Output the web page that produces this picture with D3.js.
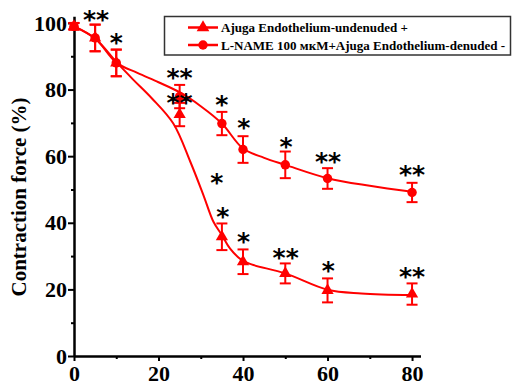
<!DOCTYPE html>
<html>
<head>
<meta charset="utf-8">
<script src="https://cdn.jsdelivr.net/npm/d3@7"></script>
<style>
  body { margin: 0; background: #fff; }
  svg { display: block; }
</style>
</head>
<body>
<div id="diagram"></div>
<script>
// data
const doses = [0, 5, 10, 25, 35, 40, 50, 60, 80];
const undenuded = [99, 95.5, 88, 72.5, 35.8, 28.3, 24.8, 19.7, 18.6];
const undenudedErr = [1, 4, 4, 3.5, 4, 3.7, 3, 3.6, 3.2];
const denuded = [99, 95.5, 88, 77.9, 69.8, 62, 57.4, 53.3, 49.1];
const denudedErr = [1, 4, 4, 3.5, 3.5, 4, 4, 3.1, 2.9];

// fitted curves as drawn
const undenudedFitX = [0, 5, 10, 14, 18.4, 23.5, 27.5, 30.6, 33, 35, 36.9, 39.7, 42, 50, 60, 68, 80];
const undenudedFit = [99, 95.3, 88.3, 83, 77.4, 69.8, 58.4, 48.4, 40.3, 36.3, 32.3, 28.8, 27.5, 24.8, 19.9, 18.8, 18.3];
const denudedFitX = [0, 5, 10, 15, 20, 25, 30, 35, 40, 45, 50, 60, 70, 80];
const denudedFit = [99, 95.4, 88.1, 85, 82.2, 79.2, 75, 69.8, 62.3, 59.5, 57.4, 53.4, 51.1, 49.3];

// significance marks
const starX = [5.2, 10, 25, 25, 35, 40.2, 50.2, 60.1, 80, 33.8, 35.2, 40.1, 50.1, 60.2, 80];
const starY = [102.4, 95.5, 85, 77.5, 76.9, 70, 64.3, 59.9, 55.9, 53.4, 43.3, 35.8, 30.9, 26.9, 25.1];
const starText = ['**', '*', '**', '**', '*', '*', '*', '**', '**', '*', '*', '*', '**', '*', '**'];

const xTicks = [0, 20, 40, 60, 80];
const yTicks = [0, 20, 40, 60, 80, 100];
const legendLabels = ['Ajuga Endothelium-undenuded +', 'L-NAME 100 мкМ+Ajuga Endothelium-denuded -'];

!(function () {
  let
    width = 513,
    height = 386,
    red = '#ff0000',
    x = d3.scaleLinear().domain([0, 82]).range([74, 420.5]),
    y = d3.scaleLinear().domain([0, 102]).range([356, 16.3]),
    svg;

  svg = d3.select('#diagram')
    .append('svg')
    .attr('width', width)
    .attr('height', height)
    .attr('viewBox', '0 0 ' + width + ' ' + height);

  svg.append('rect').attr('width', width).attr('height', height).attr('fill', '#fff');

  // axes
  let xAxis = svg.append('g')
    .attr('transform', 'translate(0,' + y(0) + ')')
    .call(d3.axisBottom(x).tickValues(xTicks).tickSize(5).tickSizeOuter(0).tickPadding(4));
  svg.append('g')
    .attr('transform', 'translate(0,' + y(0) + ')')
    .call(d3.axisBottom(x).tickValues([10, 30, 50, 70]).tickSize(3).tickFormat(''))
    .call(g => g.select('.domain').remove());

  let yAxis = svg.append('g')
    .attr('transform', 'translate(' + x(0) + ',0)')
    .call(d3.axisLeft(y).tickValues(yTicks).tickSize(6).tickSizeOuter(0).tickPadding(1));
  svg.append('g')
    .attr('transform', 'translate(' + x(0) + ',0)')
    .call(d3.axisLeft(y).tickValues([10, 30, 50, 70, 90]).tickSize(3).tickFormat(''))
    .call(g => g.select('.domain').remove());

  svg.selectAll('.domain').attr('stroke', '#000').attr('stroke-width', 2.5);
  svg.selectAll('.tick line').attr('stroke', '#000').attr('stroke-width', 2);
  svg.selectAll('.tick text')
    .attr('fill', '#000')
    .style('font-family', '"Liberation Serif", "Times New Roman", serif')
    .style('font-weight', 'bold')
    .style('font-size', '22px');
  xAxis.selectAll('.tick text').attr('dy', '0.71em');

  svg.append('text')
    .attr('transform', 'translate(26,197) rotate(-90)')
    .attr('text-anchor', 'middle')
    .style('font-family', '"Liberation Serif", "Times New Roman", serif')
    .style('font-weight', 'bold')
    .style('font-size', '21px')
    .text('Contraction force (%)');

  // fitted curves
  let line = d3.line()
    .x(function (d) { return x(d[0]); })
    .y(function (d) { return y(d[1]); })
    .curve(d3.curveCatmullRom.alpha(0.5));

  [[undenudedFitX, undenudedFit], [denudedFitX, denudedFit]].forEach(function (s) {
    svg.append('path')
      .datum(d3.zip(s[0], s[1]))
      .attr('d', line)
      .attr('fill', 'none')
      .attr('stroke', red)
      .attr('stroke-width', 2);
  });

  // error bars
  let series = [
    { vals: undenuded, err: undenudedErr, sym: d3.symbolTriangle },
    { vals: denuded, err: denudedErr, sym: d3.symbolCircle }
  ];

  series.forEach(function (s) {
    let g = svg.append('g');
    let pts = doses.map(function (d, i) { return { x: d, v: s.vals[i], e: s.err[i] }; });

    g.selectAll('line.bar')
      .data(pts)
      .enter()
      .append('line')
      .attr('x1', function (d) { return x(d.x); })
      .attr('x2', function (d) { return x(d.x); })
      .attr('y1', function (d) { return y(d.v + d.e); })
      .attr('y2', function (d) { return y(d.v - d.e); })
      .attr('stroke', red)
      .attr('stroke-width', 2);

    ['top', 'bottom'].forEach(function (side) {
      g.selectAll('line.' + side)
        .data(pts)
        .enter()
        .append('line')
        .attr('x1', function (d) { return x(d.x) - 5.5; })
        .attr('x2', function (d) { return x(d.x) + 5.5; })
        .attr('y1', function (d) { return y(side == 'top' ? d.v + d.e : d.v - d.e); })
        .attr('y2', function (d) { return y(side == 'top' ? d.v + d.e : d.v - d.e); })
        .attr('stroke', red)
        .attr('stroke-width', 2);
    });

    g.selectAll('path')
      .data(pts)
      .enter()
      .append('path')
      .attr('transform', function (d) { return 'translate(' + x(d.x) + ',' + y(d.v) + ')'; })
      .attr('d', d3.symbol().type(s.sym).size(s.sym == d3.symbolCircle ? 70 : 65))
      .attr('fill', red);
  });

  // stars
  svg.selectAll('text.star')
    .data(starText)
    .enter()
    .append('text')
    .attr('class', 'star')
    .attr('x', function (d, i) { return x(starX[i]); })
    .attr('y', function (d, i) { return y(starY[i]) + 13; })
    .attr('text-anchor', 'middle')
    .style('font-family', '"DejaVu Sans", sans-serif')
    .style('font-weight', 'bold')
    .style('font-size', '25px')
    .text(function (d) { return d; });

  // legend
  let legend = svg.append('g');
  legend.append('rect')
    .attr('x', 164.5).attr('y', 16.5)
    .attr('width', 346).attr('height', 38.5)
    .attr('fill', '#fff')
    .attr('stroke', '#333')
    .attr('stroke-width', 1.5);

  let labelWidths = [187, 284];
  legendLabels.forEach(function (label, i) {
    let ly = 27.5 + i * 17.5;
    legend.append('line')
      .attr('x1', 188).attr('x2', 218)
      .attr('y1', ly).attr('y2', ly)
      .attr('stroke', red).attr('stroke-width', 2.5);
    legend.append('path')
      .attr('transform', 'translate(203,' + ly + ')')
      .attr('d', d3.symbol().type(series[i].sym).size(70))
      .attr('fill', red);
    legend.append('text')
      .attr('x', 221).attr('y', ly + 4.5)
      .attr('textLength', labelWidths[i])
      .attr('lengthAdjust', 'spacingAndGlyphs')
      .style('font-family', '"Liberation Serif", "Times New Roman", serif')
      .style('font-weight', 'bold')
      .style('font-size', '12.6px')
      .text(label);
  });
}());
</script>
</body>
</html>
